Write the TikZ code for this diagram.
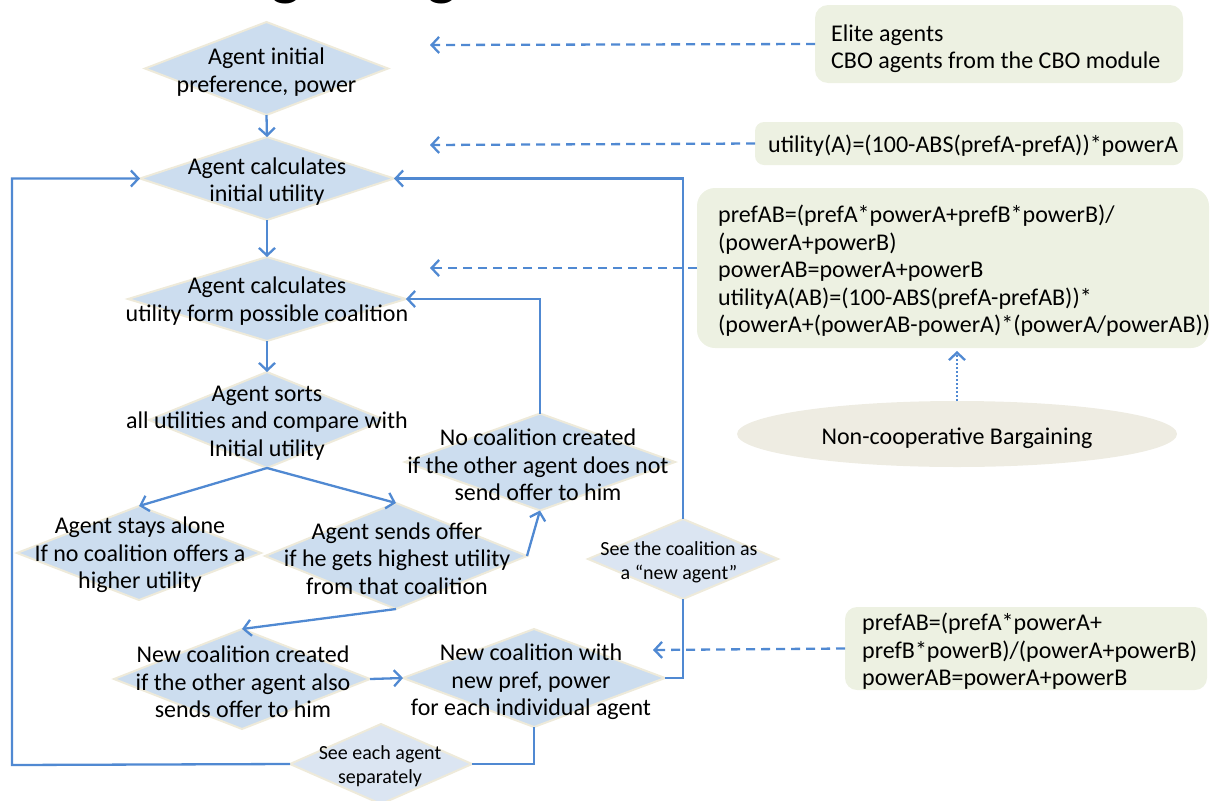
\documentclass[tikz,border=0pt]{standalone}
\usepackage{fontspec}
\setmainfont{Carlito}
\usetikzlibrary{shapes.geometric,arrows.meta,calc}
\definecolor{flowblue}{RGB}{80,137,210}
\definecolor{dfill}{RGB}{204,221,239}
\definecolor{dfilllight}{RGB}{219,229,242}
\definecolor{dborder}{RGB}{238,234,218}
\definecolor{notefill}{RGB}{237,241,226}
\definecolor{ovalfill}{RGB}{238,236,226}
\begin{document}
\begin{tikzpicture}[x=1pt,y=-1pt,
  decision/.style={shape=diamond, draw=dborder, line width=2pt, fill=dfill, inner sep=0pt, outer sep=0pt},
  minor/.style={decision, fill=dfilllight},
  txt/.style={align=center, inner sep=0pt, font=\fontsize{24}{27.5}\selectfont},
  smalltxt/.style={align=center, inner sep=0pt, font=\fontsize{20}{24}\selectfont},
  note/.style={rounded corners=13pt, fill=notefill, inner sep=0pt, outer sep=0pt},
  notetxt/.style={anchor=west, align=left, inner sep=0pt, font=\fontsize{24}{27.5}\selectfont},
  tip/.style={-{Straight Barb[length=7.5pt,width=16pt,line width=2.3pt]}},
  flow/.style={draw=flowblue, line width=2.3pt},
  flowarrow/.style={flow, tip},
  ref/.style={flow, tip, dash pattern=on 9pt off 6pt},
  hint/.style={flow, tip, line width=2.4pt, dash pattern=on 1.6pt off 2.4pt}
]
\useasboundingbox (0,0) rectangle (1211,801);

% heading, mostly above the page
\node[anchor=base west, inner sep=0pt, font=\fontsize{62}{62}\selectfont\bfseries] (title) at (75,-7) {The Bargaining module};

% main flow
\node[decision, minimum width=243, minimum height=93] (D1) at (266.5,68.5) {};
\node[txt] (D1t) at (266.5,72) {Agent initial\\preference, power};

\node[decision, minimum width=254, minimum height=83] (D2) at (267,178.5) {};
\node[txt] (D2t) at (267,181.5) {Agent calculates\\initial utility};

\node[decision, minimum width=278, minimum height=84] (D3) at (267,299) {};
\node[txt] (D3t) at (267,301) {Agent calculates\\utility form possible coalition};

\node[decision, minimum width=236, minimum height=96] (D4) at (267,420) {};
\node[txt] (D4t) at (267,423) {Agent sorts\\all utilities and compare with\\Initial utility};

\node[decision, minimum width=244, minimum height=94] (D5) at (139,553) {};
\node[txt] (D5t) at (140,555) {Agent stays alone\\If no coalition offers a\\higher utility};

\node[decision, minimum width=262, minimum height=106] (D6) at (396,556) {};
\node[txt] (D6t) at (397,558.5) {Agent sends offer\\if he gets highest utility\\from that coalition};

\node[decision, minimum width=270, minimum height=97] (D7) at (540,462) {};
\node[txt] (D7t) at (538,465) {No coalition created\\if the other agent does not\\send offer to him};

\node[minor, minimum width=190, minimum height=80] (D8) at (683,559) {};
\node[smalltxt] (D8t) at (679,562.5) {See the coalition as\\a “new agent”};

\node[decision, minimum width=256, minimum height=100] (D9) at (242,679) {};
\node[txt] (D9t) at (243,682) {New coalition created\\if the other agent also\\sends offer to him};

\node[decision, minimum width=262, minimum height=98] (D10) at (534,678) {};
\node[txt] (D10t) at (531,682) {New coalition with\\new pref, power\\for each individual agent};

\node[minor, minimum width=182, minimum height=80] (D11) at (381,764) {};
\node[smalltxt] (D11t) at (380,766) {See each agent\\separately};

% notes on the right
\node[note, minimum width=368, minimum height=78] (N1) at (999,44) {};
\node[notetxt] (N1t) at (831,48.5) {Elite agents\\CBO agents from the CBO module};

\node[note, minimum width=428, minimum height=43, rounded corners=9pt] (N2) at (969,143.5) {};
\node[notetxt] (N2t) at (768,146) {utility(A)=(100-ABS(prefA-prefA))*powerA};

\node[note, minimum width=512, minimum height=160, rounded corners=18pt] (N3) at (953,268) {};
\node[notetxt] (N3t) at (718,271) {prefAB=(prefA*powerA+prefB*powerB)/\\(powerA+powerB)\\powerAB=powerA+powerB\\utilityA(AB)=(100-ABS(prefA-prefAB))*\\(powerA+(powerAB-powerA)*(powerA/powerAB))};

\node[note, minimum width=362, minimum height=83, rounded corners=12pt] (N4) at (1026,648.5) {};
\node[notetxt] (N4t) at (862,651.5) {prefAB=(prefA*powerA+\\prefB*powerB)/(powerA+powerB)\\powerAB=powerA+powerB};

\node[ellipse, fill=ovalfill, minimum width=440, minimum height=66, inner sep=0pt, outer sep=0pt] (E1) at (957,434) {};
\node[txt] (E1t) at (957,438) {Non-cooperative Bargaining};

% free ends of the reference arrows
\coordinate (r1) at (430,45);
\coordinate (r2) at (430,145);
\coordinate (r3) at (430,268);
\coordinate (r4) at (653,650);
\coordinate (r5) at (957,351);
\coordinate (loopL) at (12,765);

% connectors
\draw[flowarrow] (D1.south) -- (D2.north);
\draw[flowarrow] (D2.south) -- (D3.north);
\draw[flowarrow] (D3.south) -- (D4.north);
\draw[flowarrow] (D4.south) -- (D5.north);
\draw[flowarrow] (D4.south) -- (D6.north);
\draw[flowarrow] (D6.east) -- (D7.south);
\draw[flowarrow] (D7.north) |- (D3.east);
\draw[flowarrow] (D6.south) -- (D9.north);
\draw[flowarrow] (D9.east) -- (D10.west);
\draw[flow] (D10.east) -| (D8.south);
\draw[flowarrow] (D8.north) |- (D2.east);
\draw[flow] (D10.south) |- (D11.east);
\draw[flowarrow] (D11.west) -- (loopL) |- (D2.west);

\draw[ref] (N1.west) -- (r1);
\draw[ref] (N2.west) -- (r2);
\draw[ref] (N3.west) -- (r3);
\draw[ref] (N4.west) -- (r4);
\draw[hint] (E1.north) -- (r5);
\end{tikzpicture}
\end{document}
